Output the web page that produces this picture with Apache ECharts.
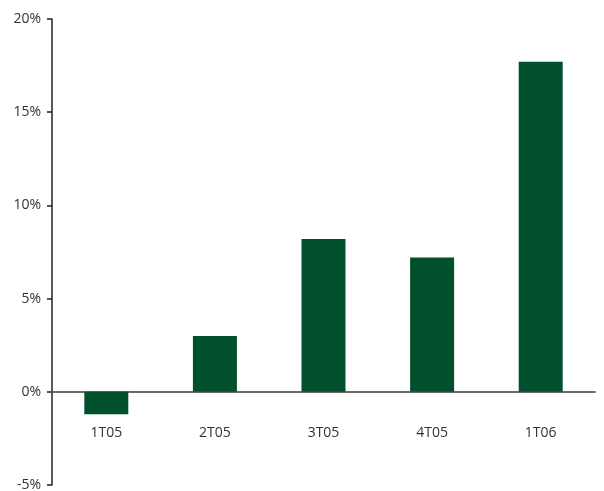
<!DOCTYPE html>
<html>
<head>
<meta charset="utf-8">
<script src="https://cdn.jsdelivr.net/npm/echarts@6/dist/echarts.min.js"></script>
<style>
  html, body { margin: 0; padding: 0; background: #fff; }
  #chart { width: 604px; height: 491px; }
</style>
</head>
<body>
<div id="chart"></div>
<script>
// Quarterly growth (%)
const categories = ['1T05', '2T05', '3T05', '4T05', '1T06'];
const values = [-1.2, 3.0, 8.2, 7.2, 17.7];
const yTicks = { min: -5, max: 20, interval: 5 };

const labelFont = { color: '#333', fontFamily: 'Open Sans', fontSize: 14 };
const gridBox = { left: 52, right: 9, top: 19, bottom: 6 };

const chart = echarts.init(document.getElementById('chart'));
const option = {
  animation: false,
  grid: Object.assign({ containLabel: false, outerBoundsMode: 'none' }, gridBox),
  xAxis: {
    type: 'category',
    data: categories,
    position: 'bottom',
    offset: 0,
    axisLine: { onZero: false, lineStyle: { color: '#6b6b6b', width: 2 } },
    axisTick: { show: false },
    axisLabel: Object.assign({ margin: 34 }, labelFont)
  },
  yAxis: {
    type: 'value',
    min: yTicks.min,
    max: yTicks.max,
    interval: yTicks.interval,
    axisLine: { show: true, lineStyle: { color: '#222', width: 1.5 } },
    axisTick: { show: true, length: 5, lineStyle: { color: '#222', width: 1.5 } },
    splitLine: { show: false },
    axisLabel: Object.assign({ margin: 11, formatter: '{value}%' }, labelFont)
  },
  series: [{
    type: 'bar',
    data: values,
    barWidth: 44,
    itemStyle: { color: '#00502e' }
  }]
};
chart.setOption(option);

// Lift the category axis (line and labels) up to the zero baseline.
const zeroY = chart.convertToPixel({ yAxisIndex: 0 }, 0);
const bottomY = chart.getHeight() - gridBox.bottom;
chart.setOption({ xAxis: { offset: -(bottomY - zeroY) } });
</script>
</body>
</html>
